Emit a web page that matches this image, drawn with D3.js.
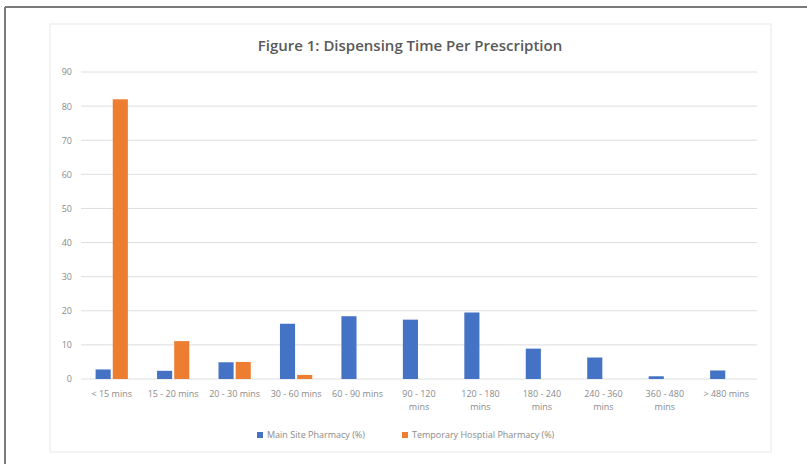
<!DOCTYPE html>
<html>
<head>
<meta charset="utf-8">
<script src="https://cdn.jsdelivr.net/npm/d3@7"></script>
<style>
  body { margin: 0; background: #fff; }
  text { font-family: "Open Sans", sans-serif; }
</style>
</head>
<body>
<div class="chart"></div>
<script>
// Dispensing time per prescription, grouped bars
const categories = ["< 15 mins", "15 - 20 mins", "20 - 30 mins", "30 - 60 mins", "60 - 90 mins",
  "90 - 120 mins", "120 - 180 mins", "180 - 240 mins", "240 - 360 mins", "360 - 480 mins", "> 480 mins"]
const seriesNames = ["Main Site Pharmacy (%)", "Temporary Hosptial Pharmacy (%)"]
const mainSite = [2.8, 2.4, 4.9, 16.2, 18.4, 17.4, 19.5, 8.9, 6.3, 0.8, 2.5]
const temporary = [82, 11.1, 5, 1.2, 0, 0, 0, 0, 0, 0, 0]
const yTicks = [0, 10, 20, 30, 40, 50, 60, 70, 80, 90]
// categories that Excel wraps onto two lines
const wrapped = ["90 - 120 mins", "120 - 180 mins", "180 - 240 mins", "240 - 360 mins", "360 - 480 mins"]

const colours = ["#4472c4", "#ed7d31"]

const W = 807, H = 464
const margin = {top: 72, right: 50, bottom: 85, left: 81}
const width = 757 - margin.left
const height = 379 - margin.top

const svg = d3.select(".chart").append("svg")
    .attr("width", W)
    .attr("height", H)

// outer frame of the screenshot (top and left only)
svg.append("line").attr("x1", 5).attr("x2", W).attr("y1", 7).attr("y2", 7)
    .attr("stroke", "#7a7a7a").attr("stroke-width", 2)
svg.append("line").attr("x1", 5).attr("x2", 5).attr("y1", 7).attr("y2", H)
    .attr("stroke", "#7a7a7a").attr("stroke-width", 2)

// chart area box
svg.append("rect")
    .attr("x", 50).attr("y", 24)
    .attr("width", 721).attr("height", 428)
    .attr("fill", "#fff")
    .attr("stroke", "#efefef")
    .attr("stroke-width", 1.5)

svg.append("text")
    .attr("x", 410).attr("y", 51)
    .attr("text-anchor", "middle")
    .style("font-size", "15px")
    .style("font-weight", 600)
    .style("fill", "#595959")
    .text("Figure 1: Dispensing Time Per Prescription")

const g = svg.append("g")
    .attr("transform", "translate(" + margin.left + "," + margin.top + ")")

const x0 = d3.scaleBand().domain(categories).range([0, width])
    .paddingInner(0.475).paddingOuter(0.2375)
const x1 = d3.scaleBand().domain(seriesNames).range([0, x0.bandwidth()]).paddingInner(0.12)
const y = d3.scaleLinear().domain([0, 90]).range([height, 0])

// gridlines
g.append("g").selectAll("line")
    .data(yTicks)
    .enter().append("line")
    .attr("x1", 0).attr("x2", width)
    .attr("y1", function(d) { return y(d); })
    .attr("y2", function(d) { return y(d); })
    .attr("stroke", "#dedede")
    .attr("stroke-width", 1)

const yAxis = d3.axisLeft(y).tickValues(yTicks).tickSize(0).tickPadding(9)
g.append("g").attr("class", "y axis").call(yAxis)
g.select(".y .domain").remove()
g.selectAll(".y text").style("font-size", "9px").style("fill", "#8a8a8a")

const rows = categories.map(function(c, i) {
  return {cat: c, values: [mainSite[i], temporary[i]]}
})

const group = g.selectAll(".grp")
    .data(rows)
    .enter().append("g")
    .attr("class", "grp")
    .attr("transform", function(d) { return "translate(" + x0(d.cat) + ",0)"; })

group.selectAll("rect")
    .data(function(d) { return d.values.map(function(v, k) { return {name: seriesNames[k], value: v, k: k}; }); })
    .enter().append("rect")
    .attr("x", function(d) { return x1(d.name); })
    .attr("y", function(d) { return y(d.value); })
    .attr("width", x1.bandwidth())
    .attr("height", function(d) { return height - y(d.value); })
    .attr("fill", function(d) { return colours[d.k]; })

// x labels, wrapping some of them like Excel does
const xAxis = d3.axisBottom(x0).tickSize(0).tickPadding(11).tickFormat("")
const xg = g.append("g").attr("class", "x axis")
    .attr("transform", "translate(0," + height + ")")
    .call(xAxis)
xg.select(".domain").remove()
xg.selectAll(".tick").append("text")
    .attr("text-anchor", "middle")
    .style("font-size", "9px")
    .style("fill", "#8a8a8a")
    .each(function(d) {
      const t = d3.select(this)
      if (wrapped.indexOf(d) >= 0) {
        const parts = d.split(" mins")
        t.append("tspan").attr("x", 0).attr("y", 18).text(parts[0])
        t.append("tspan").attr("x", 0).attr("y", 31).text("mins")
      } else {
        t.append("tspan").attr("x", 0).attr("y", 18).text(d)
      }
    })

// legend
const legendX = [257, 402]
const legend = svg.selectAll(".legend")
    .data(seriesNames)
    .enter().append("g")
    .attr("class", "legend")
    .attr("transform", function(d, i) { return "translate(" + legendX[i] + ",435)"; })
legend.append("rect")
    .attr("x", 0).attr("y", -3)
    .attr("width", 6).attr("height", 6)
    .attr("fill", function(d, i) { return colours[i]; })
legend.append("text")
    .attr("x", 10).attr("y", 3)
    .style("font-size", "9px")
    .style("fill", "#8a8a8a")
    .text(function(d) { return d; })
</script>
</body>
</html>
